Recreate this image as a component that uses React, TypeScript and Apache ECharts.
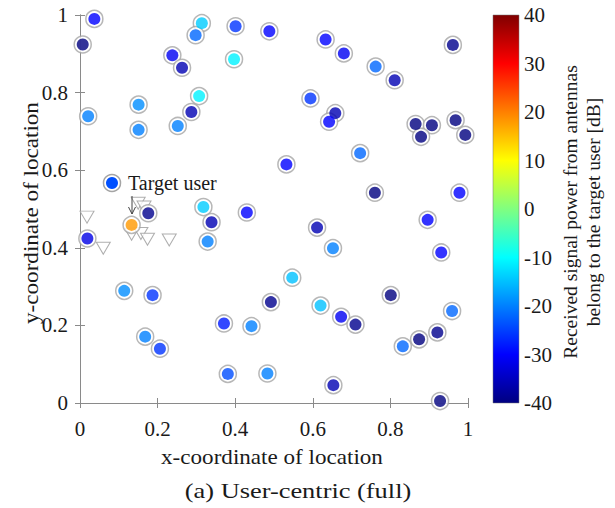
import React, { useEffect, useRef } from "react";
import * as echarts from "echarts";

// Antenna locations and received power [dB]
const antennaX = [
  0.037, 0.007, 0.314, 0.298, 0.401, 0.488, 0.238, 0.263, 0.397, 0.307,
  0.287, 0.151, 0.151, 0.021, 0.252, 0.318, 0.430, 0.176, 0.633, 0.680,
  0.762, 0.811, 0.961, 0.594, 0.658, 0.642, 0.865, 0.907, 0.879, 0.968,
  0.993, 0.722, 0.532, 0.760, 0.978, 0.611, 0.652, 0.896, 0.931, 0.547,
  0.492, 0.801, 0.620, 0.673, 0.710, 0.959, 0.921, 0.874, 0.832, 0.483,
  0.653, 0.928, 0.019, 0.339, 0.329, 0.114, 0.187, 0.168, 0.206, 0.371,
  0.442, 0.381,
];
const antennaY = [
  0.990, 0.924, 0.979, 0.948, 0.971, 0.958, 0.896, 0.864, 0.886, 0.791,
  0.750, 0.769, 0.704, 0.739, 0.714, 0.505, 0.491, 0.489, 0.937, 0.901,
  0.867, 0.832, 0.923, 0.785, 0.747, 0.725, 0.719, 0.716, 0.686, 0.729,
  0.691, 0.644, 0.615, 0.542, 0.542, 0.452, 0.399, 0.472, 0.388, 0.323,
  0.260, 0.278, 0.251, 0.222, 0.202, 0.237, 0.182, 0.164, 0.146, 0.076,
  0.046, 0.005, 0.424, 0.466, 0.416, 0.289, 0.278, 0.171, 0.140, 0.205,
  0.198, 0.075,
];
const antennaPower = [
  -30, -40, -14, -22, -26, -30, -31, -36, -11, -11,
  -36, -19, -20, -20, -20, -14, -30, -39, -30, -31,
  -22, -36, -39, -26, -36, -30, -40, -40, -40, -40,
  -40, -22, -30, -40, -30, -36, -20, -30, -30, -15,
  -39, -40, -15, -31, -39, -22, -39, -40, -22, -20,
  -36, -40, -32, -36, -20, -19, -26, -20, -26, -28,
  -20, -24,
];

// Target user
const targetX = 0.133;
const targetY = 0.459;
const targetPower = 18;

// Other users (triangles)
const userX = [0.018, 0.060, 0.133, 0.157, 0.174, 0.230, 0.150, 0.165];
const userY = [0.479, 0.399, 0.435, 0.437, 0.422, 0.420, 0.515, 0.505];

const axisTicks = [0, 0.2, 0.4, 0.6, 0.8, 1];
const colorTicks = [-40, -30, -20, -10, 0, 10, 20, 30, 40];
const jetColors = [
  "#000080", "#0000FF", "#0080FF", "#00FFFF", "#80FF80",
  "#FFFF00", "#FF8000", "#FF0000", "#800000",
];

const FONT = "Liberation Serif";
const TXT = "#1a1a1a";
const AX = "#8a8a8a";

export default function App() {
  const ref = useRef<HTMLDivElement>(null);

  useEffect(() => {
    if (!ref.current) return;
    const chart = echarts.init(ref.current, null, { renderer: "svg" });

    const antennaData = antennaX.map((x, i) => [x, antennaY[i], antennaPower[i]]);
    const allCircles = [...antennaData, [targetX, targetY, targetPower]];
    const userData = userX.map((x, i) => [x, userY[i]]);

    const tickMin = axisTicks[0];
    const tickMax = axisTicks[axisTicks.length - 1];
    const tickInt = axisTicks[1] - axisTicks[0];
    const cMin = colorTicks[0];
    const cMax = colorTicks[colorTicks.length - 1];
    const cInt = colorTicks[1] - colorTicks[0];

    const mainX = (pos: string, showLabel: boolean, margin = 15) => ({
      type: "value",
      gridIndex: 0,
      position: pos,
      min: tickMin,
      max: tickMax,
      interval: tickInt,
      axisLine: { show: true, lineStyle: { color: AX, width: 1 } },
      axisTick: { show: true, inside: true, length: 5, lineStyle: { color: AX } },
      axisLabel: {
        show: showLabel,
        fontFamily: FONT,
        fontSize: 21,
        color: TXT,
        margin,
        formatter: (v: number) => String(Math.round(v * 10) / 10),
      },
      splitLine: { show: false },
    });

    const stops = jetColors.map((c, i) => ({ offset: i / (jetColors.length - 1), color: c }));

    chart.setOption({
      animation: false,
      backgroundColor: "#fff",
      grid: [
        { left: 80, top: 15, width: 388, height: 388 },
        { left: 493, top: 15, width: 26, height: 388 },
      ],
      xAxis: [
        mainX("bottom", true, 15),
        mainX("top", false),
        { type: "value", gridIndex: 1, min: 0, max: 1, show: false },
      ],
      yAxis: [
        mainX("left", true, 12),
        mainX("right", false),
        {
          type: "value",
          gridIndex: 1,
          position: "right",
          min: cMin,
          max: cMax,
          interval: cInt,
          axisLine: { show: false },
          axisTick: { show: false },
          splitLine: { show: false },
          axisLabel: { fontFamily: FONT, fontSize: 21, color: TXT, margin: 5 },
        },
      ],
      visualMap: {
        type: "continuous",
        show: false,
        min: cMin,
        max: cMax,
        dimension: 2,
        seriesIndex: 2,
        inRange: { color: jetColors },
      },
      series: [
        {
          type: "scatter",
          xAxisIndex: 0,
          yAxisIndex: 0,
          data: userData,
          symbol: "triangle",
          symbolRotate: 180,
          symbolSize: [14, 12],
          itemStyle: { color: "#fff", borderColor: "#9a9a9a", borderWidth: 1 },
          z: 2,
        },
        {
          type: "scatter",
          xAxisIndex: 0,
          yAxisIndex: 0,
          data: allCircles,
          symbol: "circle",
          symbolSize: 17,
          itemStyle: { color: "#fff", borderColor: "#a5a5a5", borderWidth: 1.5 },
          z: 3,
        },
        {
          type: "scatter",
          xAxisIndex: 0,
          yAxisIndex: 0,
          data: allCircles,
          symbol: "circle",
          symbolSize: 12,
          z: 4,
        },
        {
          type: "custom",
          xAxisIndex: 2,
          yAxisIndex: 2,
          data: [[0, 0]],
          renderItem: (_params: any, api: any) => {
            const p0 = api.coord([0, cMax]);
            const p1 = api.coord([1, cMin]);
            return {
              type: "rect",
              shape: { x: p0[0], y: p0[1], width: p1[0] - p0[0], height: p1[1] - p0[1] },
              style: {
                fill: new echarts.graphic.LinearGradient(0, 1, 0, 0, stops),
                stroke: "#777",
                lineWidth: 0.5,
              },
            };
          },
        },
      ],
      graphic: [
        {
          type: "text",
          x: 272,
          y: 457,
          scaleX: 1.05,
          style: {
            text: "x-coordinate of location",
            font: `22px "${FONT}"`,
            fill: TXT,
            align: "center",
            verticalAlign: "middle",
          },
        },
        {
          type: "text",
          x: 31,
          y: 213,
          rotation: Math.PI / 2,
          scaleX: 1.05,
          style: {
            text: "y-coordinate of location",
            font: `22px "${FONT}"`,
            fill: TXT,
            align: "center",
            verticalAlign: "middle",
          },
        },
        {
          type: "text",
          x: 582,
          y: 212,
          rotation: Math.PI / 2,
          style: {
            text: "Received signal power from antennas\nbelong to the target user [dB]",
            font: `19.5px "${FONT}"`,
            lineHeight: 23,
            fill: TXT,
            align: "center",
            verticalAlign: "middle",
          },
        },
        {
          type: "text",
          x: 298,
          y: 490,
          scaleX: 1.2,
          style: {
            text: "(a) User-centric (full)",
            font: `22px "${FONT}"`,
            fill: TXT,
            align: "center",
            verticalAlign: "middle",
          },
        },
        {
          type: "circle",
          shape: { cx: 112, cy: 183, r: 8.5 },
          style: { fill: "#fff", stroke: "#a5a5a5", lineWidth: 1.5 },
          z: 10,
        },
        {
          type: "circle",
          shape: { cx: 112, cy: 183, r: 6 },
          style: { fill: "#0050FF" },
          z: 11,
        },
        {
          type: "text",
          x: 128,
          y: 183,
          style: {
            text: "Target user",
            font: `20px "${FONT}"`,
            fill: TXT,
            align: "left",
            verticalAlign: "middle",
          },
          z: 10,
        },
        {
          type: "line",
          shape: { x1: 132, y1: 196, x2: 132, y2: 214 },
          style: { stroke: "#444", lineWidth: 1 },
          z: 10,
        },
        {
          type: "polyline",
          shape: { points: [[128.5, 207], [132, 214], [135.5, 207]] },
          style: { stroke: "#444", lineWidth: 1, fill: "none" },
          z: 10,
        },
      ],
    });

    return () => chart.dispose();
  }, []);

  return (
    <div
      ref={ref}
      style={{ position: "fixed", left: 0, top: 0, width: 615, height: 508, background: "#fff" }}
    />
  );
}
